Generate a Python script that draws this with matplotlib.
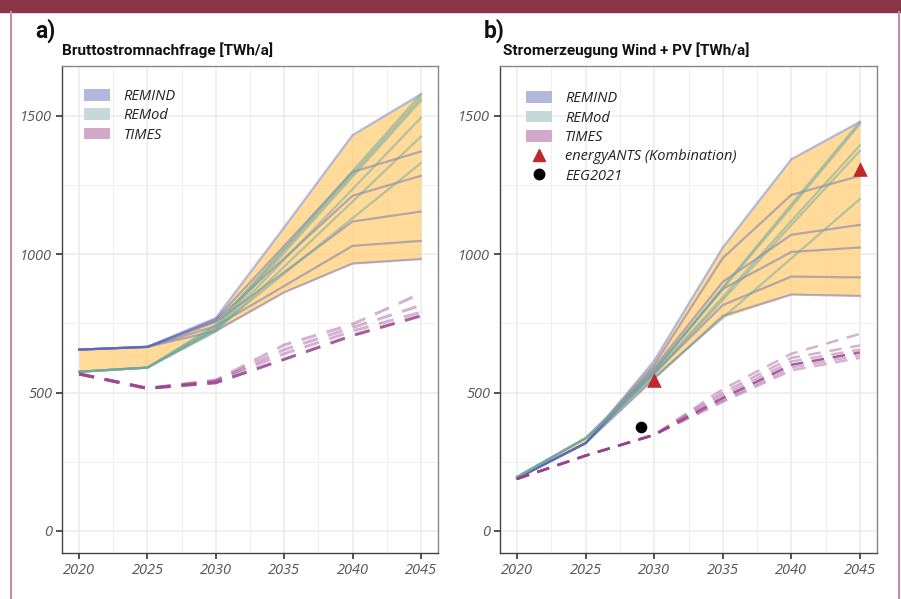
import matplotlib
matplotlib.use("Agg")
import matplotlib.pyplot as plt
import numpy as np
from matplotlib.patches import Patch
from matplotlib.lines import Line2D

years = [2020, 2025, 2030, 2035, 2040, 2045]

# ---- Panel a: Bruttostromnachfrage [TWh/a]
a_remind = [
    [655, 665, 769, 1097, 1430, 1578],
    [655, 665, 765, 1030, 1297, 1371],
    [655, 665, 760, 985, 1211, 1283],
    [655, 665, 755, 935, 1118, 1154],
    [655, 665, 740, 885, 1030, 1048],
    [655, 665, 723, 862, 966, 982],
]
a_remod = [
    [575, 590, 745, 1020, 1300, 1578],
    [575, 590, 738, 1015, 1290, 1566],
    [575, 590, 730, 1005, 1280, 1555],
    [575, 590, 725, 980, 1235, 1493],
    [575, 590, 720, 955, 1190, 1425],
    [575, 590, 730, 930, 1130, 1329],
]
a_times_main = [567, 515, 535, 620, 706, 777]
a_times_alt = [
    [567, 515, 540, 640, 722, 790],
    [567, 515, 542, 655, 735, 815],
    [567, 515, 545, 672, 747, 858],
]

# ---- Panel b: Stromerzeugung Wind + PV [TWh/a]
b_remind = [
    [190, 317, 615, 1024, 1343, 1478],
    [190, 317, 600, 986, 1214, 1283],
    [190, 317, 590, 900, 1070, 1106],
    [190, 317, 580, 874, 1008, 1024],
    [190, 317, 570, 816, 919, 916],
    [190, 317, 550, 777, 854, 849],
]
b_remod = [
    [195, 335, 580, 880, 1180, 1478],
    [195, 335, 575, 875, 1170, 1470],
    [195, 335, 570, 845, 1120, 1393],
    [195, 335, 565, 835, 1105, 1373],
    [195, 335, 555, 770, 985, 1199],
]
b_times_main = [188, 272, 347, 480, 600, 645]
b_times_alt = [
    [188, 272, 347, 512, 640, 712],
    [188, 272, 347, 500, 625, 670],
    [188, 272, 347, 490, 612, 655],
    [188, 272, 347, 472, 590, 635],
    [188, 272, 347, 466, 580, 625],
]
ants_years = [2030, 2045]
ants_values = [545, 1307]
eeg_years = [2029]
eeg_values = [376]

labels_models = ["REMIND", "REMod", "TIMES"]
label_ants = "energyANTS (Kombination)"
label_eeg = "EEG2021"

C_REMIND = "#5A66BC"
C_REMOD = "#6FA7A0"
C_TIMES = "#98408A"
C_FILL = "#FFCC70"
LEG_REMIND = "#B3B6DD"
LEG_REMOD = "#C6D9D9"
LEG_TIMES = "#D2A8C8"

fig = plt.figure(figsize=(9.01, 5.99), dpi=100)

# frame decoration
fig.patches.append(plt.Rectangle((0, 1 - 12 / 599), 1, 12 / 599, transform=fig.transFigure,
                                 color="#8A3449", zorder=0))
fig.lines.append(Line2D([11 / 901, 11 / 901], [0, 1 - 12 / 599], transform=fig.transFigure,
                        color="#C98E9E", lw=1.5))
fig.lines.append(Line2D([899 / 901, 899 / 901], [0, 1 - 12 / 599], transform=fig.transFigure,
                        color="#C98E9E", lw=1.5))

ax1 = fig.add_axes([62 / 901, 46 / 599, 376 / 901, 487 / 599])
ax2 = fig.add_axes([500 / 901, 46 / 599, 377 / 901, 487 / 599])

tickfont = {"family": "Open Sans", "style": "italic", "size": 10.5}


def style_axis(ax):
    ax.set_xlim(2018.75, 2046.25)
    ax.set_ylim(-80, 1680)
    ax.set_xticks([2020, 2025, 2030, 2035, 2040, 2045])
    ax.set_xticks([2022.5, 2027.5, 2032.5, 2037.5, 2042.5], minor=True)
    ax.set_yticks([0, 500, 1000, 1500])
    ax.set_yticks([250, 750, 1250], minor=True)
    ax.grid(which="major", color="#EBEBEB", lw=1.1, zorder=0)
    ax.grid(which="minor", color="#F0F0F0", lw=0.7, zorder=0)
    ax.set_axisbelow(True)
    ax.tick_params(which="minor", length=0)
    ax.tick_params(which="major", length=4, width=1.2, color="#333333", labelcolor="#555555", pad=3)
    for lab in ax.get_xticklabels() + ax.get_yticklabels():
        lab.set_fontfamily(tickfont["family"])
        lab.set_fontstyle(tickfont["style"])
        lab.set_fontsize(tickfont["size"])
    for s in ["top", "right"]:
        ax.spines[s].set_color("#888888")
        ax.spines[s].set_linewidth(1.0)
    for s in ["left", "bottom"]:
        ax.spines[s].set_color("#444444")
        ax.spines[s].set_linewidth(1.0)


def draw_panel(ax, remind, remod, times_main, times_alt, tlw):
    allv = np.array(remind + remod, dtype=float)
    ax.fill_between(years, allv.min(axis=0), allv.max(axis=0), color=C_FILL, alpha=0.72,
                    lw=0, zorder=1)
    for s in remind:
        ax.plot(years, s, color=C_REMIND, alpha=0.45, lw=1.6, zorder=2)
    for s in remod:
        ax.plot(years, s, color=C_REMOD, alpha=0.5, lw=1.6, zorder=2)
    for s in times_alt:
        ax.plot(years, s, color=C_TIMES, alpha=0.4, lw=tlw, ls=(0, (5, 3.5)), zorder=3)
    ax.plot(years, times_main, color=C_TIMES, alpha=0.85, lw=tlw, ls=(0, (5, 3.5)), zorder=3)


draw_panel(ax1, a_remind, a_remod, a_times_main, a_times_alt, 2.2)
draw_panel(ax2, b_remind, b_remod, b_times_main, b_times_alt, 1.8)
ax2.scatter(ants_years, ants_values, marker="^", s=110, color="#C0282D", zorder=5, lw=0)
ax2.scatter(eeg_years, eeg_values, marker="o", s=70, color="black", zorder=5, lw=0)

style_axis(ax1)
style_axis(ax2)

legfont = {"family": "Open Sans", "style": "italic", "size": 10.5}
h_models = [Patch(facecolor=LEG_REMIND, edgecolor="none"),
            Patch(facecolor=LEG_REMOD, edgecolor="none"),
            Patch(facecolor=LEG_TIMES, edgecolor="none")]
leg1 = ax1.legend(h_models, labels_models, loc="upper left", bbox_to_anchor=(0.058, 0.953),
                  frameon=False, prop=legfont, handlelength=1.8, handleheight=0.85,
                  handletextpad=0.9, labelspacing=0.3, borderpad=0, borderaxespad=0)
h_b = h_models + [Line2D([], [], marker="^", color="#C0282D", ls="none", markersize=9),
                  Line2D([], [], marker="o", color="black", ls="none", markersize=7.5)]
leg2 = ax2.legend(h_b, labels_models + [label_ants, label_eeg], loc="upper left",
                  bbox_to_anchor=(0.068, 0.948), frameon=False, prop=legfont, handlelength=1.8,
                  handleheight=0.85, handletextpad=0.9, labelspacing=0.3, borderpad=0,
                  borderaxespad=0)
for leg in (leg1, leg2):
    for t in leg.get_texts():
        t.set_color("#222222")

fig.text(35 / 901, 1 - 38 / 599, "a)", fontsize=16.5, fontweight="bold", family="Roboto",
         va="baseline", ha="left", color="#111111")
fig.text(62 / 901, 1 - 55 / 599, "Bruttostromnachfrage [TWh/a]", fontsize=11, fontweight="bold",
         family="Roboto", va="baseline", ha="left", color="#111111")
fig.text(484 / 901, 1 - 38 / 599, "b)", fontsize=16.5, fontweight="bold", family="Roboto",
         va="baseline", ha="left", color="#111111")
fig.text(503 / 901, 1 - 55 / 599, "Stromerzeugung Wind + PV [TWh/a]", fontsize=11,
         fontweight="bold", family="Roboto", va="baseline", ha="left", color="#111111")

fig.savefig("out.png", dpi=100)
